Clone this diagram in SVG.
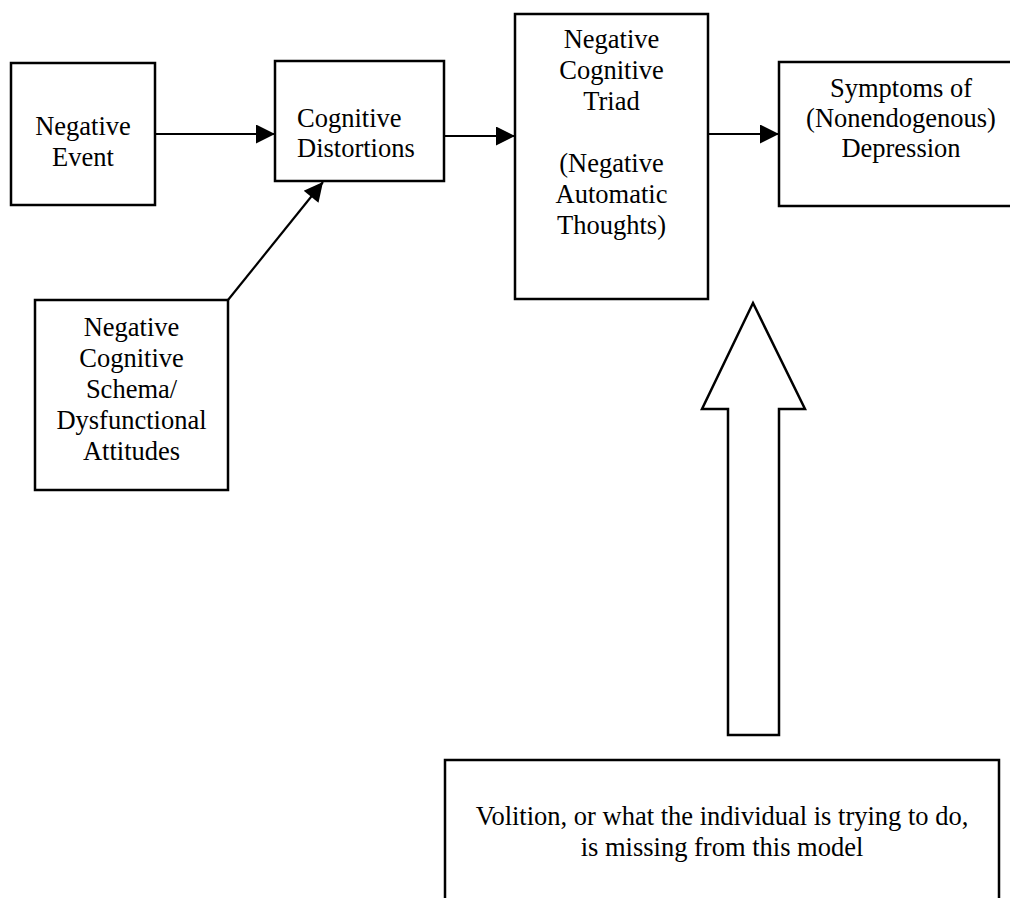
<svg xmlns="http://www.w3.org/2000/svg" width="1010" height="898" viewBox="0 0 1010 898">
<style>
  .box { fill: #ffffff; stroke: #000000; stroke-width: 2.5; }
  .lbl { font-family: "Liberation Serif", "Times New Roman", serif; font-size: 26.5px; fill: #000000; }
  .c { text-anchor: middle; }
  .conn { stroke: #000000; stroke-width: 2.2; fill: none; }
  .block { fill: #ffffff; stroke: #000000; stroke-width: 2.5; stroke-linejoin: miter; }
</style>
<defs>
  <marker id="ah" viewBox="0 0 20 20" refX="20" refY="10" markerWidth="21" markerHeight="19" markerUnits="userSpaceOnUse" orient="auto">
    <path d="M0,0 L20,10 L0,20 Z" fill="#000000"/>
  </marker>
</defs>
<rect width="1010" height="898" fill="#ffffff"/>

<g id="negative-event">
  <rect class="box" x="11" y="63" width="144" height="142"/>
  <text class="lbl c" x="83" y="135">Negative</text>
  <text class="lbl c" x="83" y="166">Event</text>
</g>

<g id="cognitive-distortions">
  <rect class="box" x="275" y="61" width="169" height="120"/>
  <text class="lbl" x="297" y="127">Cognitive</text>
  <text class="lbl" x="297" y="157">Distortions</text>
</g>

<g id="negative-cognitive-triad">
  <rect class="box" x="515" y="14" width="193" height="285"/>
  <text class="lbl c" x="611.5" y="48">Negative</text>
  <text class="lbl c" x="611.5" y="79">Cognitive</text>
  <text class="lbl c" x="611.5" y="110">Triad</text>
  <text class="lbl c" x="611.5" y="172">(Negative</text>
  <text class="lbl c" x="611.5" y="203">Automatic</text>
  <text class="lbl c" x="611.5" y="234">Thoughts)</text>
</g>

<g id="symptoms">
  <rect class="box" x="779" y="62" width="240" height="144"/>
  <text class="lbl c" x="901" y="97">Symptoms of</text>
  <text class="lbl c" x="901" y="127">(Nonendogenous)</text>
  <text class="lbl c" x="901" y="157">Depression</text>
</g>

<g id="schema">
  <rect class="box" x="35" y="300" width="193" height="190"/>
  <text class="lbl c" x="131.5" y="336">Negative</text>
  <text class="lbl c" x="131.5" y="367">Cognitive</text>
  <text class="lbl c" x="131.5" y="398">Schema/</text>
  <text class="lbl c" x="131.5" y="429">Dysfunctional</text>
  <text class="lbl c" x="131.5" y="460">Attitudes</text>
</g>

<g id="volition">
  <rect class="box" x="445" y="760" width="554" height="150"/>
  <text class="lbl c" x="722" y="825">Volition, or what the individual is trying to do,</text>
  <text class="lbl c" x="722" y="856">is missing from this model</text>
</g>

<g id="connectors">
  <line class="conn" x1="155" y1="134" x2="275" y2="134" marker-end="url(#ah)"/>
  <line class="conn" x1="444" y1="136" x2="515" y2="136" marker-end="url(#ah)"/>
  <line class="conn" x1="708" y1="134" x2="779" y2="134" marker-end="url(#ah)"/>
  <line class="conn" x1="228" y1="300" x2="323" y2="182" marker-end="url(#ah)"/>
  <polygon class="block" points="753,303 805,409 779,409 779,735 728,735 728,409 702,409"/>
</g>
</svg>
